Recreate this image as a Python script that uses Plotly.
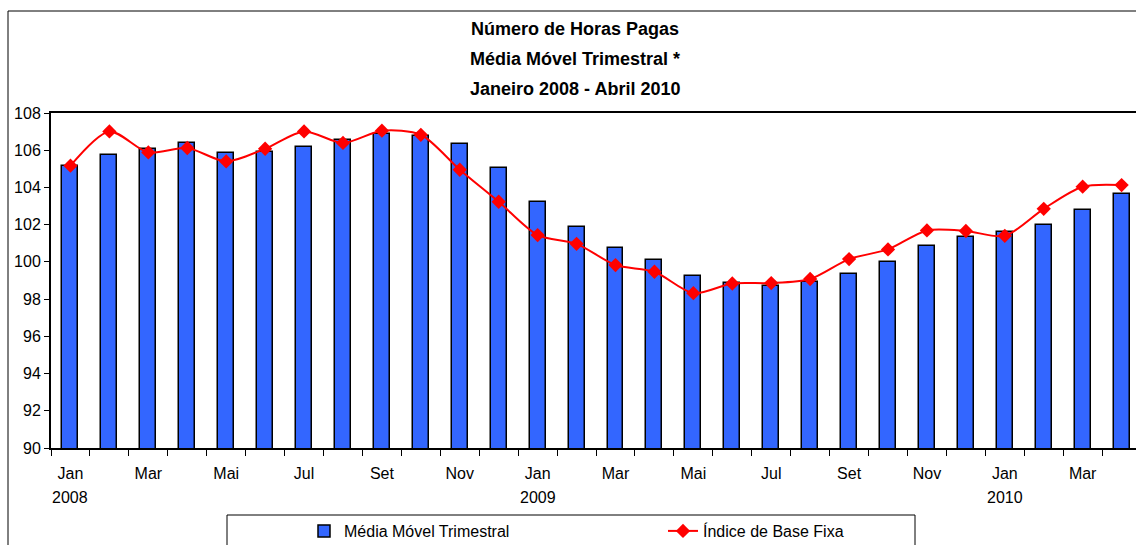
import plotly.graph_objects as go

months = ["Jan", "Fev", "Mar", "Abr", "Mai", "Jun", "Jul", "Ago", "Set", "Out", "Nov", "Dez",
          "Jan", "Fev", "Mar", "Abr", "Mai", "Jun", "Jul", "Ago", "Set", "Out", "Nov", "Dez",
          "Jan", "Fev", "Mar", "Abr"]
years = ["2008", "2009", "2010"]

media_movel = [105.13, 105.74, 106.04, 106.39, 105.85, 105.92, 106.19, 106.57, 106.85, 106.78, 106.31, 105.02,
               103.23, 101.89, 100.76, 100.10, 99.22, 98.89, 98.68, 98.93, 99.36, 99.97, 100.85, 101.35,
               101.60, 101.98, 102.78, 103.66]
indice_base_fixa = [105.17, 107.01, 105.88, 106.12, 105.40, 106.08, 107.01, 106.39, 107.05, 106.83, 104.95, 103.23,
                    101.44, 100.97, 99.83, 99.47, 98.32, 98.84, 98.86, 99.08, 100.15, 100.67, 101.69, 101.66,
                    101.40, 102.85, 104.04, 104.13]

y_ticks = [90, 92, 94, 96, 98, 100, 102, 104, 106, 108]

x = list(range(len(months)))
tick_idx = [i for i in x if i % 2 == 0]
tick_txt = [months[i] for i in tick_idx]

FONT = "Liberation Sans, Arial, sans-serif"

fig = go.Figure()
fig.add_trace(go.Bar(
    x=x, y=media_movel, name="Média Móvel Trimestral", width=0.41,
    marker=dict(color="#3366FF", line=dict(color="black", width=1.5)),
))
fig.add_trace(go.Scatter(
    x=x, y=indice_base_fixa, name="Índice de Base Fixa", mode="lines+markers",
    line=dict(color="#FF0000", width=2, shape="spline", smoothing=0.8),
    marker=dict(symbol="diamond", size=11, color="#FF0000"),
))

L, T, B = 51, 113, 97
W, H = 1136, 545
pw = W - L
ph = H - T - B

def px2xp(px):
    return (px - L) / pw

def py2yp(py):
    return (T + ph - py) / ph

annotations = []
title_lines = ["Número de Horas Pagas", "Média Móvel Trimestral *", "Janeiro 2008 - Abril 2010"]
for i, t in enumerate(title_lines):
    annotations.append(dict(
        text="<b>" + t + "</b>", xref="paper", yref="paper", x=px2xp(575), y=py2yp(29 + 30 * i),
        xanchor="center", yanchor="middle", showarrow=False,
        font=dict(family=FONT, size=18, color="black"),
    ))
for j, yr in enumerate(years):
    annotations.append(dict(
        text=yr, xref="x", yref="paper", x=12 * j, y=py2yp(497),
        xanchor="center", yanchor="middle", showarrow=False,
        font=dict(family=FONT, size=16, color="black"),
    ))

shapes = [
    dict(type="rect", xref="paper", yref="paper", x0=px2xp(8), x1=px2xp(1200), y0=py2yp(600), y1=py2yp(11),
         line=dict(color="black", width=1), fillcolor="rgba(0,0,0,0)", layer="below"),
    dict(type="rect", xref="paper", yref="paper", x0=px2xp(227), x1=px2xp(915), y0=py2yp(560), y1=py2yp(515),
         line=dict(color="black", width=1), fillcolor="white", layer="below"),
]

fig.update_layout(
    width=W, height=H,
    margin=dict(l=L, r=0, t=T, b=B),
    paper_bgcolor="white", plot_bgcolor="white",
    font=dict(family=FONT, size=16, color="black"),
    showlegend=True,
    legend=dict(orientation="h", xref="container", yref="container",
                x=304 / W, xanchor="left", y=(H - 514) / H, yanchor="top",
                entrywidth=314, bgcolor="rgba(0,0,0,0)", borderwidth=0,
                font=dict(family=FONT, size=16, color="black")),
    annotations=annotations,
    shapes=shapes,
    bargap=0,
)
fig.update_xaxes(
    range=[-0.5, 27.37], tickmode="array", tickvals=tick_idx, ticktext=tick_txt, ticks="",
    showline=True, linecolor="black", linewidth=2, mirror=True, showgrid=False, zeroline=False,
    tickfont=dict(family=FONT, size=16), ticklabelstandoff=10, automargin=False,
    minor=dict(tickmode="linear", tick0=-0.5, dtick=1, ticks="outside", ticklen=6, tickcolor="black", tickwidth=1),
)
fig.update_yaxes(
    range=[90, 108], tickmode="array", tickvals=y_ticks, ticks="outside", ticklen=5, tickcolor="black",
    showline=True, linecolor="black", linewidth=2, showgrid=False, zeroline=False, automargin=False,
    tickfont=dict(family=FONT, size=16),
)

fig.write_html(
    "out.html",
    config={"displayModeBar": False},
    post_script="document.body.style.margin='0';document.body.style.padding='0';"
                "document.documentElement.style.overflow='hidden';document.body.style.overflow='hidden';",
)
